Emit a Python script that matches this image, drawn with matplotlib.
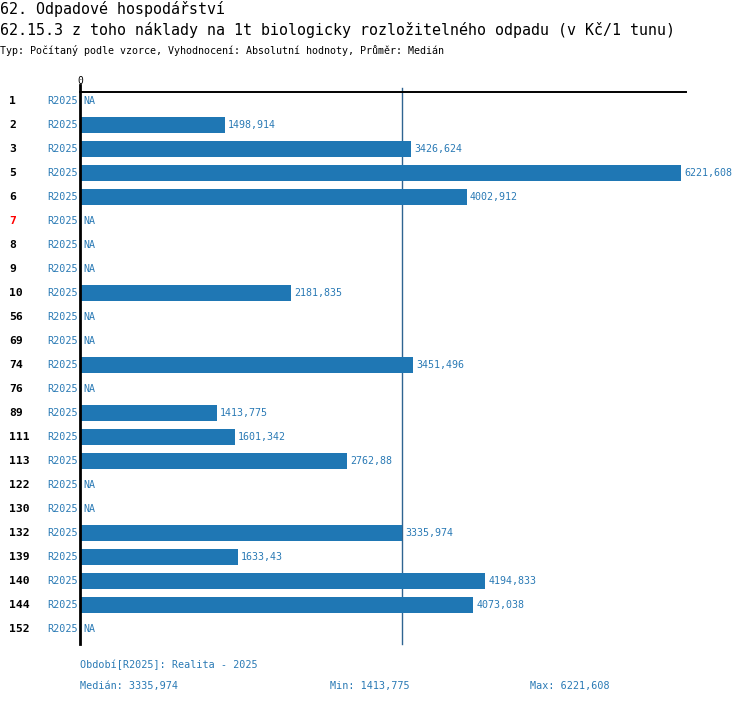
import matplotlib
matplotlib.use("Agg")
import matplotlib.pyplot as plt

rows = ['1', '2', '3', '5', '6', '7', '8', '9', '10', '56', '69', '74', '76', '89',
        '111', '113', '122', '130', '132', '139', '140', '144', '152']
values = [None, 1498.914, 3426.624, 6221.608, 4002.912, None, None, None, 2181.835,
          None, None, 3451.496, None, 1413.775, 1601.342, 2762.88, None, None,
          3335.974, 1633.43, 4194.833, 4073.038, None]
highlight = ['7']
period = 'R2025'
median_val = 3335.974
min_val = 1413.775
max_val = 6221.608

title1 = "62. Odpadové hospodářství"
title2 = "62.15.3 z toho náklady na 1t biologicky rozložitelného odpadu (v Kč/1 tunu)"
subtitle = "Typ: Počítaný podle vzorce, Vyhodnocení: Absolutní hodnoty, Průměr: Medián"
footer1 = "Období[R2025]: Realita - 2025"


def fmt(v):
    return str(v).replace('.', ',')


W, H = 750, 704
plt.rcParams['font.family'] = ['DejaVu Sans Mono', 'DejaVu Sans']
blue = '#1f77b4'
text_blue = '#2a7ab5'

fig = plt.figure(figsize=(W / 100, H / 100), dpi=100)
# axes from x=80..686 px, y=92..644 px
ax = fig.add_axes([80 / W, 1 - 644 / H, 606 / W, (644 - 92) / H])
xmax = max_val * 606 / 601
ax.set_xlim(0, xmax)
n = len(rows)
ax.set_ylim(n - 1 + 0.625, -0.375)
ax.axis('off')


def px(x, y):
    return x / W, 1 - y / H


for i, (r, v) in enumerate(zip(rows, values)):
    if v is not None:
        ax.barh(i, v, height=0.7, color=blue, zorder=2)
        ax.text(v + xmax * 3 / 606, i, fmt(v), va='center', ha='left',
                fontsize=7.2, color=text_blue)
    else:
        ax.text(xmax * 3 / 606, i, 'NA', va='center', ha='left',
                fontsize=7.2, color=text_blue)
    fig.text(*px(9, 101 + 24 * i), r, ha='left', va='center', fontsize=8.2,
             fontweight='bold', color='red' if r in highlight else 'black')
    fig.text(*px(78, 101 + 24 * i), period, ha='right', va='center',
             fontsize=7.3, color=text_blue)

# median line (behind bars)
ax.plot([median_val, median_val], [-0.55, n - 1 + 0.625], color='#2f6491',
        lw=1, clip_on=False, zorder=1)
# top line and zero axis
ax.plot([0, xmax], [-0.375, -0.375], color='black', lw=1.4, clip_on=False, zorder=3)
ax.plot([0, 0], [-0.65, n - 1 + 0.625], color='black', lw=2, clip_on=False, zorder=3)
ax.text(0, -0.85, '0', ha='center', va='center', fontsize=7)

fig.text(*px(0, 9), title1, ha='left', va='center', fontsize=10.8)
fig.text(*px(0, 30), title2, ha='left', va='center', fontsize=10.8)
fig.text(*px(0, 50), subtitle, ha='left', va='center', fontsize=7.2)

fig.text(*px(80, 665), footer1, ha='left', va='center', fontsize=7.3, color=text_blue)
fig.text(*px(80, 686), 'Medián: ' + fmt(median_val), ha='left', va='center',
         fontsize=7.3, color=text_blue)
fig.text(*px(330, 686), 'Min: ' + fmt(min_val), ha='left', va='center',
         fontsize=7.3, color=text_blue)
fig.text(*px(530, 686), 'Max: ' + fmt(max_val), ha='left', va='center',
         fontsize=7.3, color=text_blue)

fig.savefig('out.png', dpi=100)
